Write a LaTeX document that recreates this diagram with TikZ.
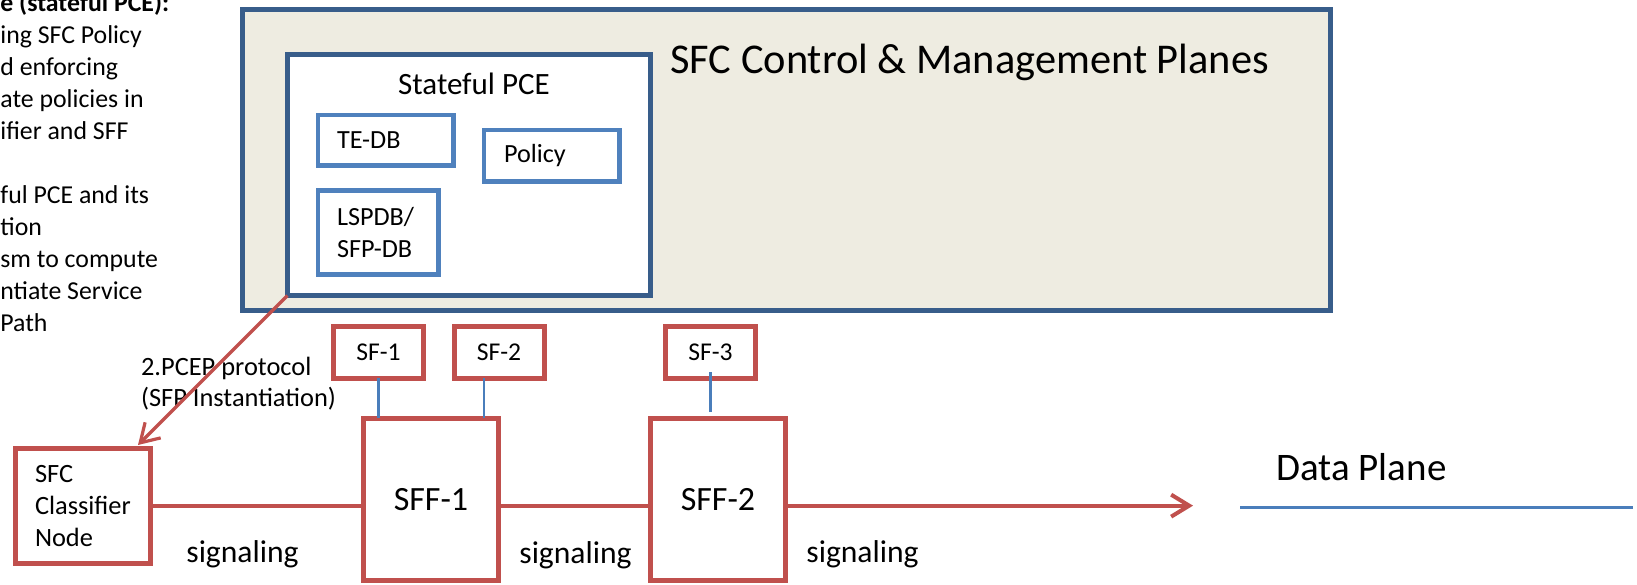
\documentclass[tikz,border=0pt]{standalone}
\usepackage{fontspec}
\setmainfont{Carlito}
\usetikzlibrary{arrows.meta}
\definecolor{planeblue}{HTML}{385D8A}
\definecolor{planefill}{HTML}{EEECE1}
\definecolor{dbblue}{HTML}{4F81BD}
\definecolor{sfred}{HTML}{C0504D}
\definecolor{thinblue}{HTML}{4A7EBB}

\begin{document}
\begin{tikzpicture}[x=0.5pt,y=-0.5pt]
\tikzstyle{every node}+=[inner sep=0pt]
\tikzstyle{box}=[anchor=north west, outer sep=0pt, fill=white]
\tikzstyle{plane}=[box, draw=planeblue, line width=2.5pt]
\tikzstyle{dbbox}=[box, draw=dbblue, line width=2.3pt, align=left, font=\fontsize{13.1}{16}\selectfont]
\tikzstyle{sfbox}=[box, draw=sfred, line width=2.5pt, align=left]
\tikzstyle{sig}=[draw=sfred, line width=2pt]
\tikzstyle{sflink}=[draw=thinblue, line width=1.3pt]
\tikzstyle{sigarrow}=[-{Straight Barb[length=9pt,width=11pt]}]
\useasboundingbox (0,0) rectangle (1637,584);

% notes on the left, cut off by the page edge
\node[anchor=base west, align=left, font=\fontsize{12.9}{16}\selectfont] (notes) at (0,331)
  {\textbf{e (stateful PCE):}\\ing SFC Policy\\d enforcing\\ate policies in\\ifier and SFF\\[16pt]ful PCE and its\\tion\\sm to compute\\ntiate Service\\Path};

% control and management planes
\node[plane, fill=planefill, minimum width=544pt, minimum height=150.25pt] (ctrl) at (242.5,9.5) {};
\node[anchor=base west, font=\fontsize{21.2}{25}\selectfont] (title) at (670,73) {SFC Control \& Management Planes};
\node[plane, minimum width=181.25pt, minimum height=120.5pt] (pce) at (287.5,54.5) {};
\node[anchor=base, font=\fontsize{15.5}{19}\selectfont] (pcetitle) at (474,94) {Stateful PCE};
\node[dbbox, minimum width=67.75pt, minimum height=25.25pt, text width=48.75pt] (tedb) at (318,115) {TE-DB};
\node[dbbox, minimum width=67.75pt, minimum height=25.75pt, text width=47.75pt] (policy) at (484,130) {Policy};
\node[dbbox, minimum width=60.25pt, minimum height=42pt, text width=41.25pt] (lspdb) at (318,190.5) {LSPDB/\\SFP-DB};

% data plane
\node[sfbox, minimum width=67.5pt, minimum height=57.65pt, text width=48pt, font=\fontsize{13.2}{16}\selectfont] (cls) at (15.5,448) {SFC\\Classifier\\Node};
\node[sfbox, align=center, minimum width=67.5pt, minimum height=81.25pt, font=\fontsize{17}{20}\selectfont] (sff1) at (363.5,418) {SFF-1};
\node[sfbox, align=center, minimum width=67.5pt, minimum height=81.25pt, font=\fontsize{17}{20}\selectfont] (sff2) at (650.5,418) {SFF-2};
\foreach \n/\x [count=\i] in {sf1/333.5,sf2/454,sf3/665.5}
  \node[sfbox, align=center, minimum width=45pt, minimum height=25.65pt, font=\fontsize{12.8}{15}\selectfont] (\n) at (\x,326.7) {SF-\i};

\node[anchor=base west, align=left, font=\fontsize{13.2}{15.5}\selectfont] (pcep) at (140.7,406.7) {2.PCEP protocol\\(SFP Instantiation)};
\foreach \x/\y [count=\i] in {186/562,519/563,806/562}
  \node[anchor=base west, font=\fontsize{15.8}{19}\selectfont] (sig\i) at (\x,\y) {signaling};
\node[anchor=base west, font=\fontsize{19.5}{23}\selectfont] (dplabel) at (1276,480) {Data Plane};

% connectors
\coordinate (sf2foot) at ([xshift=-7.25pt]sff1.north east);
\coordinate (dataend) at (1193,506);
\coordinate (dpl) at (1240,507.5);
\coordinate (dpr) at (1633,507.5);
\draw[sflink] (sf1.south) -- (sf1.south |- sff1.north);
\draw[sflink] (sf2foot) -- (sf2foot |- sf2.south);
\draw[sflink] ([yshift=3pt]sf3.south) -- ([yshift=3.25pt]sf3.south |- sff2.north);
\draw[sig] (cls.east) -- (cls.east -| sff1.west);
\draw[sig] (sff1.east |- cls.east) -- (sff2.west |- cls.east);
\draw[sig, sigarrow] (sff2.east |- cls.east) -- (dataend |- cls.east);
\draw[sig, line width=1.6pt, sigarrow] (pce.south west) -- ([xshift=-6.25pt,yshift=1.5pt]cls.north east);
\draw[sflink] (dpl) -- (dpr);
\end{tikzpicture}
\end{document}
